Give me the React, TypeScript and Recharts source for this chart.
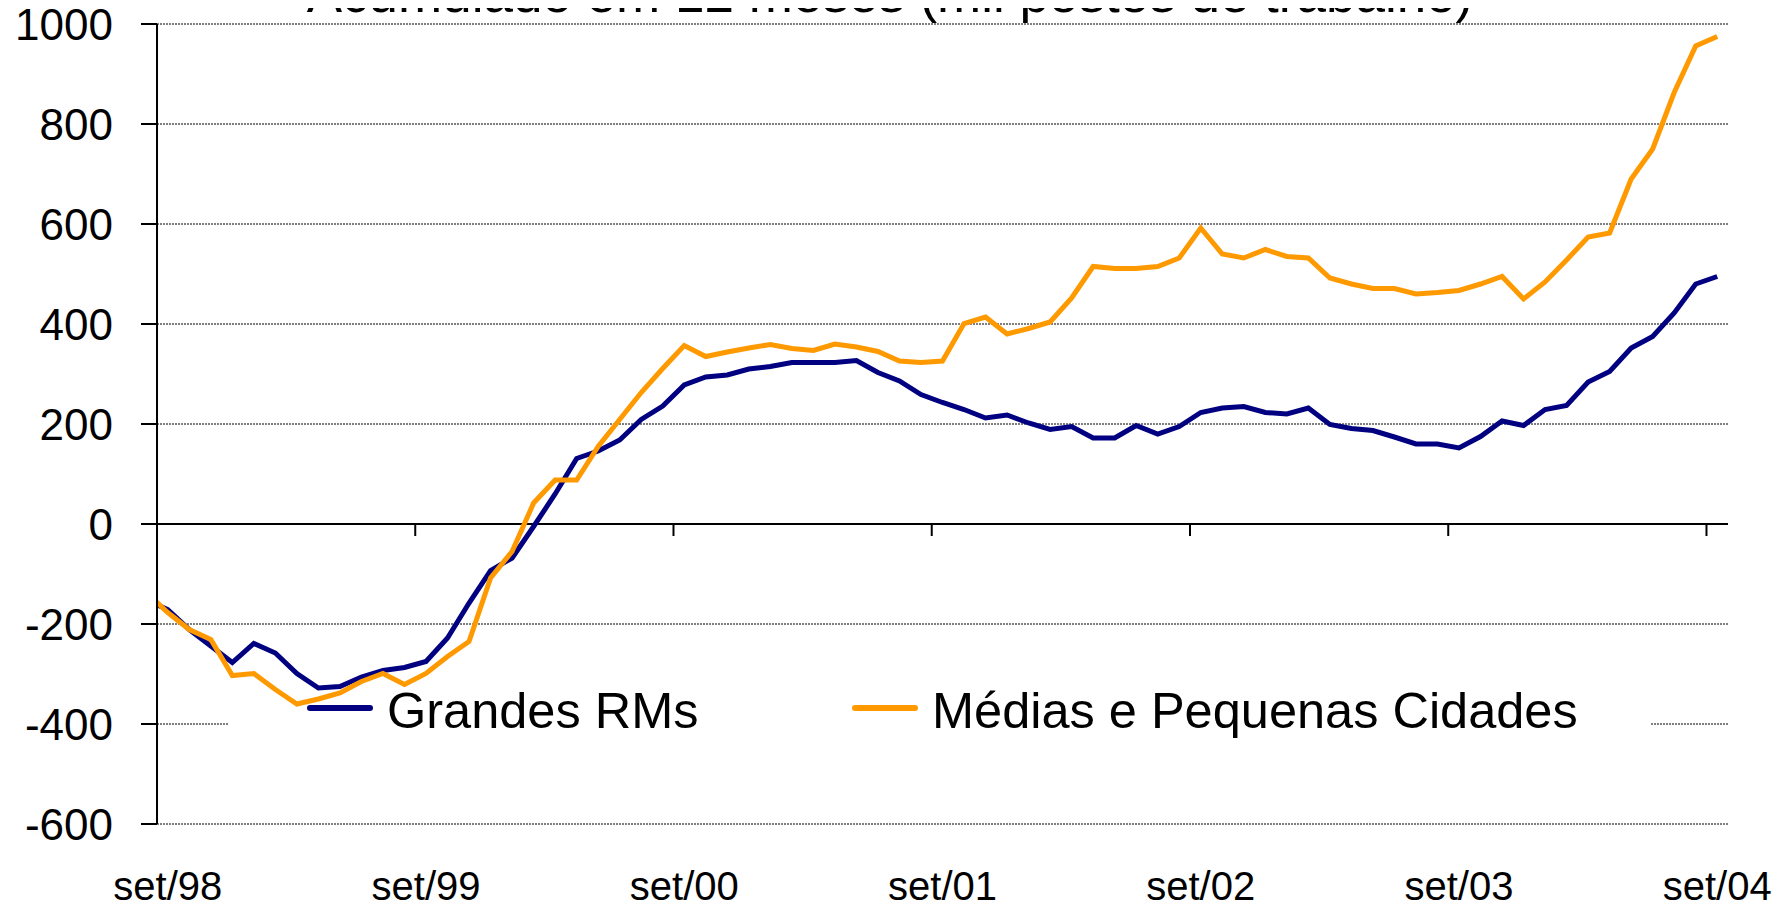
import React from 'react';
import { LineChart, Line, XAxis, YAxis, CartesianGrid, ReferenceLine, Legend } from 'recharts';

// meses em português, série começa em ago/98 (ponto cortado na borda esquerda)
const monthNames = ['jan', 'fev', 'mar', 'abr', 'mai', 'jun', 'jul', 'ago', 'set', 'out', 'nov', 'dez'];
const categories: string[] = [];
for (let i = 0; i < 74; i++) {
  const m = (7 + i) % 12;
  const y = 1998 + Math.floor((7 + i) / 12);
  categories.push(`${monthNames[m]}/${String(y).slice(2)}`);
}

// acumulado em 12 meses, mil postos de trabalho
const grandesRMs = [
  -152, -171, -211, -244, -277, -239, -258, -299, -328, -325, -306, -293, -287, -275, -228, -158,
  -93, -68, -5, 60, 131, 146, 168, 209, 236, 278, 294, 298, 310, 315, 323, 323, 323, 327, 303, 286,
  259, 243, 229, 212, 218, 202, 189, 195, 172, 172, 197, 180, 195, 223, 232, 235, 223, 220, 232, 199,
  191, 187, 174, 160, 160, 152, 175, 206, 197, 229, 237, 284, 305, 352, 375, 422, 480, 495,
];
const mediasPequenas = [
  -137, -177, -211, -231, -303, -299, -331, -360, -350, -338, -315, -299, -321, -299, -265, -235,
  -108, -55, 42, 88, 88, 155, 209, 263, 311, 357, 335, 344, 352, 359, 351, 347, 360, 354, 345, 326,
  323, 326, 401, 414, 380, 391, 404, 452, 515, 511, 511, 515, 532, 592, 540, 532, 549, 535, 532, 492,
  480, 471, 471, 460, 463, 467, 480, 495, 450, 484, 528, 574, 582, 690, 750, 863, 956, 975,
];

const xLabelTicks = [1, 13, 25, 37, 49, 61, 73];
const yTicks = [-600, -400, -200, 0, 200, 400, 600, 800, 1000];
const yearBoundaries = [12.5, 24.5, 36.5, 48.5, 60.5, 72.5];

const NAVY = '#000080';
const ORANGE = '#FF9900';
const FONT = 'Arial, "Liberation Sans", sans-serif';

const data = categories.map((label, i) => ({
  idx: i,
  label,
  grandes: grandesRMs[i],
  medias: mediasPequenas[i],
}));

const LegendBox = (props: any) => {
  const items = props.payload || [];
  const pos = [
    { line: 79, text: 159 },
    { line: 624, text: 704 },
  ];
  return (
    <div style={{ position: 'relative', width: 1422, height: 102, fontFamily: FONT }}>
      <div style={{ position: 'absolute', left: 0, top: 24, width: 1422, height: 78, background: '#fff' }} />
      {items.map((it: any, i: number) => (
        <React.Fragment key={it.value}>
          <div
            style={{
              position: 'absolute',
              left: pos[i].line,
              top: 17,
              width: 66,
              height: 6,
              borderRadius: 3,
              background: it.color,
            }}
          />
          <span
            style={{
              position: 'absolute',
              left: pos[i].text,
              top: -2,
              fontSize: 50.5,
              lineHeight: '50px',
              color: '#000',
              whiteSpace: 'nowrap',
            }}
          >
            {it.value}
          </span>
        </React.Fragment>
      ))}
    </div>
  );
};

export default function App() {
  return (
    <div style={{ position: 'relative', width: 1779, height: 896, fontFamily: FONT }}>
      <div
        style={{
          position: 'absolute',
          left: 0,
          top: -41,
          width: 1764,
          textAlign: 'center',
          fontSize: 53,
          lineHeight: '53px',
          whiteSpace: 'nowrap',
          color: '#000',
          pointerEvents: 'none',
        }}
      >
        Acumulado em 12 meses (mil postos de trabalho)
      </div>
      <LineChart
        width={1779}
        height={896}
        data={data}
        margin={{ top: 16, right: 59, left: 0, bottom: 0 }}
      >
        <CartesianGrid vertical={false} stroke="#000" strokeDasharray="2 1" strokeWidth={1} />
        <XAxis
          type="number"
          dataKey="idx"
          domain={[0.5, 73.5]}
          allowDataOverflow
          ticks={xLabelTicks}
          tickFormatter={(v: number) => categories[v]}
          interval={0}
          axisLine={false}
          tickLine={false}
          tickSize={0}
          tickMargin={48}
          height={80}
          tick={{ fontSize: 40, fill: '#000', fontFamily: FONT }}
        />
        <YAxis
          domain={[-600, 1000]}
          ticks={yTicks}
          interval={0}
          width={149}
          axisLine={{ stroke: '#000', strokeWidth: 2 }}
          tickLine={{ stroke: '#000', strokeWidth: 2 }}
          tickSize={16}
          tickMargin={28}
          tick={{ fontSize: 44, fill: '#000', fontFamily: FONT }}
        />
        <ReferenceLine y={0} stroke="#000" strokeWidth={2} />
        {yearBoundaries.map((b) => (
          <ReferenceLine
            key={b}
            segment={[{ x: b, y: 0 }, { x: b, y: -24 }]}
            stroke="#000"
            strokeWidth={2}
          />
        ))}
        <Line
          type="linear"
          dataKey="grandes"
          name="Grandes RMs"
          stroke={NAVY}
          strokeWidth={5}
          dot={false}
          isAnimationActive={false}
        />
        <Line
          type="linear"
          dataKey="medias"
          name="Médias e Pequenas Cidades"
          stroke={ORANGE}
          strokeWidth={5}
          dot={false}
          isAnimationActive={false}
        />
        <Legend
          layout="vertical"
          align="center"
          verticalAlign="middle"
          content={<LegendBox />}
          wrapperStyle={{ position: 'absolute', left: 220, top: 680, width: 1422, height: 102 }}
        />
      </LineChart>
    </div>
  );
}
